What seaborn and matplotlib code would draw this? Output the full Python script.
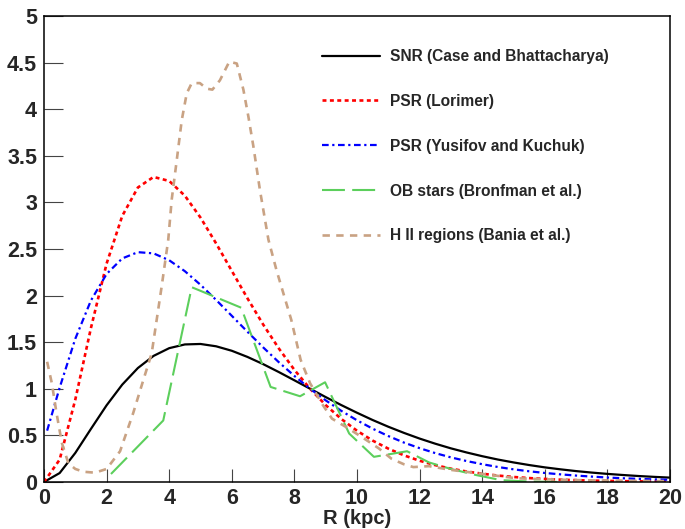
import numpy as np
import pandas as pd
import matplotlib
matplotlib.use("Agg")
import matplotlib.pyplot as plt
import seaborn as sns
from matplotlib.ticker import MultipleLocator

# ---------------- data ----------------
r_grid = [0.0, 0.5, 1.0, 1.5, 2.0, 2.5, 3.0, 3.5, 4.0, 4.5, 5.0, 5.5, 6.0, 6.5,
          7.0, 7.5, 8.0, 8.5, 9.0, 9.5, 10.0, 10.5, 11.0, 11.5, 12.0, 12.5,
          13.0, 13.5, 14.0, 14.5, 15.0, 15.5, 16.0, 16.5, 17.0, 17.5, 18.0,
          18.5, 19.0, 19.5, 20.0]

snr_case = [0.000, 0.096, 0.312, 0.570, 0.823, 1.045, 1.223, 1.353, 1.436, 1.476,
            1.481, 1.456, 1.408, 1.342, 1.265, 1.180, 1.091, 1.001, 0.911, 0.825,
            0.743, 0.665, 0.593, 0.527, 0.466, 0.411, 0.361, 0.317, 0.277, 0.241,
            0.210, 0.182, 0.157, 0.136, 0.117, 0.101, 0.087, 0.075, 0.064, 0.055,
            0.047]

psr_lorimer = [0.000, 0.240, 0.884, 1.653, 2.343, 2.855, 3.160, 3.273, 3.230, 3.072,
               2.837, 2.559, 2.265, 1.971, 1.691, 1.434, 1.203, 1.001, 0.825, 0.676,
               0.550, 0.444, 0.358, 0.286, 0.228, 0.181, 0.143, 0.113, 0.089, 0.069,
               0.054, 0.042, 0.033, 0.025, 0.020, 0.015, 0.012, 0.009, 0.007, 0.005,
               0.004]

r_yk = [0.1] + r_grid[1:]
psr_yk = [0.551, 1.012, 1.537, 1.948, 2.232, 2.399, 2.466, 2.453, 2.379, 2.262,
          2.116, 1.953, 1.783, 1.612, 1.445, 1.286, 1.138, 1.001, 0.876, 0.763,
          0.662, 0.572, 0.493, 0.423, 0.363, 0.310, 0.264, 0.225, 0.191, 0.161,
          0.136, 0.115, 0.097, 0.082, 0.069, 0.058, 0.048, 0.040, 0.034, 0.028,
          0.024]

r_ob = [2.14, 3.81, 4.72, 6.30, 7.24, 8.18, 8.98, 9.75, 10.54, 11.60, 12.30,
        13.00, 13.80, 14.60, 15.50, 16.60]
ob_stars = [0.086, 0.66, 2.09, 1.87, 1.02, 0.92, 1.07, 0.52, 0.27, 0.33, 0.21,
            0.14, 0.075, 0.02, 0.005, 0.0]

r_hii = [0.10, 0.25, 0.40, 0.57, 0.78, 1.00, 1.26, 1.63, 2.00, 2.43, 2.85, 3.17,
         3.44, 3.60, 3.76, 3.97, 4.08, 4.24, 4.40, 4.56, 4.72, 4.98, 5.20, 5.38,
         5.62, 5.92, 6.16, 6.37, 6.53, 6.69, 6.90, 7.17, 7.43, 7.90, 8.20, 8.50,
         8.90, 9.20, 9.70, 10.30, 10.70, 11.10, 11.50, 11.80, 12.30, 13.00, 13.70,
         14.40, 15.10, 16.00, 17.00, 18.00, 19.00, 20.00]
hii_regions = [1.29, 1.06, 0.74, 0.42, 0.20, 0.14, 0.11, 0.10, 0.14, 0.33, 0.74,
               1.09, 1.38, 1.74, 2.10, 2.60, 3.03, 3.45, 3.88, 4.17, 4.28, 4.28,
               4.22, 4.21, 4.31, 4.51, 4.49, 4.21, 3.92, 3.60, 3.13, 2.60, 2.27,
               1.74, 1.31, 1.06, 0.83, 0.68, 0.58, 0.45, 0.36, 0.25, 0.19, 0.16,
               0.17, 0.13, 0.10, 0.07, 0.04, 0.03, 0.02, 0.015, 0.012, 0.01]

labels = ["SNR (Case and Bhattacharya)", "PSR (Lorimer)",
          "PSR (Yusifov and Kuchuk)", "OB stars (Bronfman et al.)",
          "H II regions (Bania et al.)"]
x_ticks = [0, 2, 4, 6, 8, 10, 12, 14, 16, 18, 20]
y_ticks = [0, 0.5, 1, 1.5, 2, 2.5, 3, 3.5, 4, 4.5, 5]

# ---------------- figure ----------------
sns.set_style("white")
plt.rcParams["font.family"] = ["Liberation Sans", "DejaVu Sans"]
plt.rcParams["font.weight"] = "bold"

fig = plt.figure(figsize=(6.85, 5.29), dpi=100)
ax = fig.add_axes([44 / 685, 1 - 482 / 529, (670 - 44) / 685, (482 - 16) / 529])

series = [
    (r_grid, snr_case, "#000000", "-", 1.6),
    (r_grid, psr_lorimer, "#ff0000", (0, (1.5, 1.3)), 1.9),
    (r_yk, psr_yk, "#0000ff", (0, (3.0, 1.6, 1.0, 1.6)), 1.6),
    (r_ob, ob_stars, "#5ccf5c", (0, (11.0, 3.5)), 1.5),
    (r_hii, hii_regions, "#c9a283", (0, (2.8, 2.4)), 1.9),
]
for (xs, ys, col, ls, lw), lab in zip(series, labels):
    df = pd.DataFrame({"R": xs, "v": ys})
    sns.lineplot(data=df, x="R", y="v", ax=ax, color=col, linestyle=ls,
                 linewidth=lw, errorbar=None, sort=False, label=lab)

ax.set_xlim(0, 20)
ax.set_ylim(0, 5)
ax.set_xticks(x_ticks)
ax.set_xticklabels([str(t) for t in x_ticks])
ax.set_yticks(y_ticks)
ax.set_yticklabels([("%g" % t) for t in y_ticks])
ax.xaxis.set_minor_locator(MultipleLocator(0.5))
ax.yaxis.set_minor_locator(MultipleLocator(0.1))
ax.tick_params(axis="x", which="major", direction="in", length=9.5, width=0.8,
               color="#444444", pad=4, labelsize=15.5)
ax.tick_params(axis="x", which="minor", direction="in", length=4.5, width=0.8,
               color="#444444")
ax.tick_params(axis="y", which="major", direction="in", length=13.5, width=0.8,
               color="#444444", pad=5, labelsize=15.5)
ax.tick_params(axis="y", which="minor", direction="in", length=6.5, width=0.8,
               color="#444444")
ax.tick_params(bottom=True, left=True, top=False, right=False)
for lab in ax.get_xticklabels() + ax.get_yticklabels():
    lab.set_fontweight("bold")
for sp in ax.spines.values():
    sp.set_color("black")
    sp.set_linewidth(1.1)

xl = ax.set_xlabel("R (kpc)", fontsize=14.5, fontweight="bold")
xl.set_verticalalignment("baseline")
ax.xaxis.set_label_coords(0.5, (482 - 524) / 466)
ax.set_ylabel("")

leg = ax.legend(loc="upper left", bbox_to_anchor=(322 / 685, 1 - 49 / 529),
                bbox_transform=fig.transFigure, frameon=False,
                prop={"weight": "bold", "size": 11.2}, handlelength=3.7,
                handletextpad=0.7, labelspacing=1.92, borderpad=0,
                borderaxespad=0)

fig.savefig("out.png", dpi=100)
